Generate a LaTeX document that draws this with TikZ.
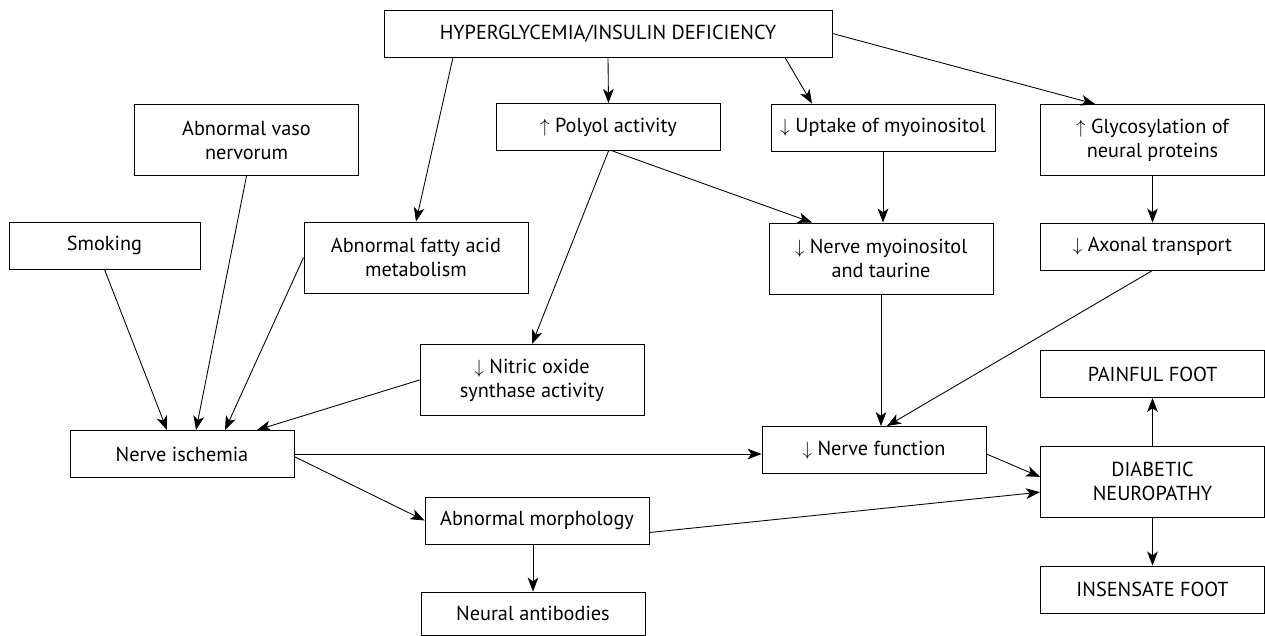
\documentclass[tikz,border=0pt]{standalone}
\usepackage{fontspec}
\setmainfont{PT Sans}
\usepackage{tikz}
\usetikzlibrary{arrows.meta}

\tikzset{
	box/.style={draw, line width=0.7pt, align=center, inner sep=0pt, minimum width=168pt, minimum height=35.25pt, font=\fontsize{15.2}{18}\selectfont},
	tall/.style={minimum height=53.25pt},
	link/.style={line width=0.65pt, -{Stealth[length=10.5pt, width=8pt, inset=2.8pt]}}
}

\begin{document}
\begin{tikzpicture}[x=0.75pt, y=-0.75pt]
	\useasboundingbox (0,0) rectangle (1265,636);

	% Top row
	\node[box, minimum width=336pt] (hyper) at (608,33.5) {HYPERGLYCEMIA/INSULIN DEFICIENCY};
	\node[box] (polyol) at (608.5,127) {$\uparrow$ Polyol activity};
	\node[box] (uptake) at (883,127.5) {$\downarrow$ Uptake of myoinositol};
	\node[box, tall] (glyco) at (1152.5,140) {$\uparrow$ Glycosylation of\\neural proteins};
	\node[box, tall] (vaso) at (246.5,140) {Abnormal vaso\\nervorum};

	% Second row
	\node[box, minimum width=143.25pt] (smoking) at (104.5,245.5) {Smoking};
	\node[box, tall] (fatty) at (416,257.5) {Abnormal fatty acid\\metabolism};
	\node[box, tall] (nervemyo) at (881,258.5) {$\downarrow$ Nerve myoinositol\\and taurine};
	\node[box] (axonal) at (1152.5,246.5) {$\downarrow$ Axonal transport};

	% Lower part
	\node[box, tall] (nitric) at (532,380) {$\downarrow$ Nitric oxide\\synthase activity};
	\node[box] (ischemia) at (182,454) {Nerve ischemia};
	\node[box] (nervefn) at (874,450) {$\downarrow$ Nerve function};
	\node[box] (painful) at (1152.5,374) {PAINFUL FOOT};
	\node[box, tall] (diabetic) at (1152.5,481.5) {DIABETIC\\NEUROPATHY};
	\node[box] (insensate) at (1152.5,589.5) {INSENSATE FOOT};
	\node[box] (morph) at (537,520.5) {Abnormal morphology};
	\node[box, minimum height=32.6pt] (antibodies) at (533,613.8) {Neural antibodies};

	% From hyperglycemia
	\draw[link] (hyper.south) -- (polyol.north);
	\draw[link] ([xshift=132.75pt]hyper.south) -- ([xshift=-53.25pt]uptake.north);
	\draw[link] (hyper.east) -- ([xshift=-43pt]glyco.north);
	\draw[link] ([xshift=-116.25pt]hyper.south) -- (fatty.north);

	% Polyol, myoinositol, glycosylation
	\draw[link] (polyol.south) -- (nitric.north);
	\draw[link] ([xshift=3pt]polyol.south) -- ([xshift=-51.75pt]nervemyo.north);
	\draw[link] (uptake.south) -- (uptake.south |- nervemyo.north);
	\draw[link] (glyco.south) -- (axonal.north);

	% Into nerve ischemia
	\draw[link] (vaso.south) -- ([xshift=10.5pt]ischemia.north);
	\draw[link] (smoking.south) -- ([xshift=-11.25pt]ischemia.north);
	\draw[link] (fatty.west) -- ([xshift=32.25pt]ischemia.north);
	\draw[link] (nitric.west) -- ([xshift=56.25pt]ischemia.north);

	% Out of nerve ischemia
	\draw[link] (ischemia.east) -- (ischemia.east -| nervefn.west);
	\draw[link] ([yshift=-2pt]ischemia.east) -- (morph.west);
	\draw[link] (antibodies.north |- morph.south) -- (antibodies.north);
	\draw[link] ([yshift=-9pt]morph.east) -- ([yshift=-8pt]diabetic.west);

	% Nerve function
	\draw[link] (nervemyo.south) -- (nervemyo.south |- nervefn.north);
	\draw[link] (axonal.south) -- ([xshift=9.75pt]nervefn.north);
	\draw[link] ([yshift=-3pt]nervefn.east) -- ([yshift=3.5pt]diabetic.west);

	% Outcomes
	\draw[link] (diabetic.north) -- (painful.south);
	\draw[link] (diabetic.south) -- (insensate.north);
\end{tikzpicture}
\end{document}
